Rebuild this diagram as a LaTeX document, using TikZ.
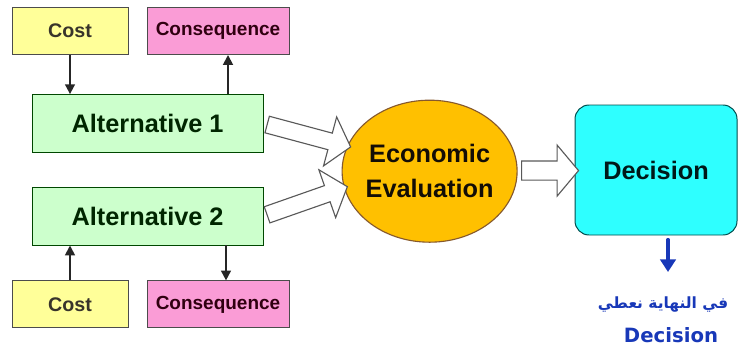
\documentclass[tikz,border=0pt]{standalone}
\usepackage{fontspec}
\setmainfont{Liberation Sans}
\newfontfamily\arabicfont[Script=Arabic]{DejaVu Sans}
\newfontfamily\handfont{DejaVu Sans}
\TeXXeTstate=1
\usetikzlibrary{arrows.meta, calc, shapes.geometric, shapes.arrows}
\definecolor{costfill}{HTML}{FFFF99}
\definecolor{consfill}{HTML}{FA9CD6}
\definecolor{altfill}{HTML}{CCFFCC}
\definecolor{evalfill}{HTML}{FFC000}
\definecolor{decfill}{HTML}{2EFFFF}
\definecolor{penblue}{HTML}{1838B8}

\begin{document}
\begin{tikzpicture}[
    box/.style={draw=black!70, line width=0.7pt, align=center, inner sep=2pt},
    costx/.style={box, fill=costfill, text=black!80!olive, minimum width=2.9cm,
                  minimum height=1.175cm, font=\bfseries\fontsize{14}{16}\selectfont},
    consx/.style={box, fill=consfill, text=black!75!purple, minimum width=3.55cm,
                  minimum height=1.175cm, font=\bfseries\fontsize{13.5}{16}\selectfont},
    altx/.style={box, fill=altfill, draw=black!60!green!70!black, text=black!85!green,
                 minimum width=5.78cm, minimum height=1.45cm,
                 font=\bfseries\fontsize{18}{20}\selectfont},
    evalx/.style={ellipse, draw=brown!70!black, line width=0.8pt, fill=evalfill,
                  align=center, minimum width=4.375cm, minimum height=3.55cm,
                  inner xsep=-3pt, inner ysep=0pt, text=black!90!brown,
                  font=\bfseries\fontsize{18}{25}\selectfont},
    decx/.style={box, draw=teal!60!black, fill=decfill, rounded corners=10pt,
                 minimum width=4.05cm, minimum height=3.25cm, text=black!80!teal,
                 font=\bfseries\fontsize{18}{20}\selectfont},
    flow/.style={-{Triangle[length=7pt, width=7pt]}, line width=1.3pt, black!85},
    hollow/.style={single arrow, draw=black!65, fill=white, line width=0.8pt,
                   inner sep=0.2cm, single arrow head extend=0.42cm,
                   single arrow tip angle=100, anchor=center},
    handarrow/.style={-{Triangle[length=9pt, width=11pt]}, line width=2.2pt,
                      penblue, line cap=round},
    note/.style={text=penblue, inner sep=1pt},
]
\useasboundingbox (0,0) rectangle (18.6,9);

\node[costx] (cost1) at (1.75,8.225) {Cost};
\node[consx] (cons1) at (5.45,8.225) {Consequence};
\node[altx] (alt1) at (3.69,5.91) {Alternative 1};
\node[altx] (alt2) at (3.69,3.6) {Alternative 2};
\node[costx] (cost2) at (1.75,1.39) {Cost};
\node[consx] (cons2) at (5.45,1.39) {Consequence};
\node[evalx] (eval) at (10.74,4.72) {Economic\\Evaluation};
\node[decx] (dec) at (16.4,4.75) {Decision};

\draw[flow] (cost1.south) -- (cost1.south |- alt1.north);
\draw[flow] ([xshift=0.25cm]cons1.south |- alt1.north) -- ([xshift=0.25cm]cons1.south);
\draw[flow] (cost2.north) -- (cost2.north |- alt2.south);
\draw[flow] ([xshift=0.2cm]cons2.north |- alt2.south) -- ([xshift=0.2cm]cons2.north);

\path let \p1=($(eval.163)-(alt1.east)$), \n1={veclen(\x1,\y1)} in
   (alt1.east) -- (eval.163) node[hollow, midway, sloped, minimum height=\n1] {};
\path let \p1=($(eval.191)-(alt2.east)$), \n1={veclen(\x1,\y1)} in
   (alt2.east) -- (eval.191) node[hollow, midway, sloped, minimum height=\n1] {};
\path let \p1=($(dec.west)-(eval.east)$), \n1={veclen(\x1,\y1)} in
   (eval.east) -- (dec.west) node[hollow, midway, minimum height=\n1,
   single arrow head extend=0.4cm, inner sep=0.225cm] {};

\node[note, font=\arabicfont\bfseries\fontsize{11}{13}\selectfont] (note)
   at (16.575,1.375) {\beginR في النهاية نعطي\endR};
\node[note, font=\handfont\bfseries\fontsize{14}{16}\selectfont] (notedec)
   at (16.775,0.625) {Decision};
\coordinate (tip) at (16.7,2.2);
\draw[handarrow] ($(dec.south -| tip)+(0,-0.1)$) -- (tip);
\end{tikzpicture}
\end{document}
